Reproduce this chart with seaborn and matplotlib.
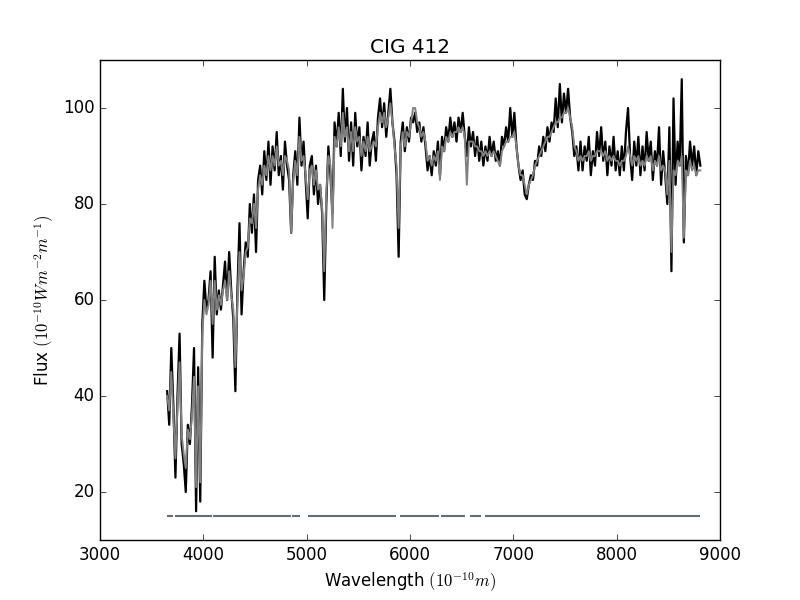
import numpy as np
import pandas as pd
import seaborn as sns
import matplotlib
matplotlib.use("Agg")
import matplotlib.pyplot as plt

# wavelength grid (Angstrom), 20 A steps
wave = [3650, 3670, 3690, 3710, 3730, 3750, 3770, 3790, 3810, 3830,
        3850, 3870, 3890, 3910, 3930, 3950, 3970, 3990, 4010, 4030,
        4050, 4070, 4090, 4110, 4130, 4150, 4170, 4190, 4210, 4230,
        4250, 4270, 4290, 4310, 4330, 4350, 4370, 4390, 4410, 4430,
        4450, 4470, 4490, 4510, 4530, 4550, 4570, 4590, 4610, 4630,
        4650, 4670, 4690, 4710, 4730, 4750, 4770, 4790, 4810, 4830,
        4850, 4870, 4890, 4910, 4930, 4950, 4970, 4990, 5010, 5030,
        5050, 5070, 5090, 5110, 5130, 5150, 5170, 5190, 5210, 5230,
        5250, 5270, 5290, 5310, 5330, 5350, 5370, 5390, 5410, 5430,
        5450, 5470, 5490, 5510, 5530, 5550, 5570, 5590, 5610, 5630,
        5650, 5670, 5690, 5710, 5730, 5750, 5770, 5790, 5810, 5830,
        5850, 5870, 5890, 5910, 5930, 5950, 5970, 5990, 6010, 6030,
        6050, 6070, 6090, 6110, 6130, 6150, 6170, 6190, 6210, 6230,
        6250, 6270, 6290, 6310, 6330, 6350, 6370, 6390, 6410, 6430,
        6450, 6470, 6490, 6510, 6530, 6550, 6570, 6590, 6610, 6630,
        6650, 6670, 6690, 6710, 6730, 6750, 6770, 6790, 6810, 6830,
        6850, 6870, 6890, 6910, 6930, 6950, 6970, 6990, 7010, 7030,
        7050, 7070, 7090, 7110, 7130, 7150, 7170, 7190, 7210, 7230,
        7250, 7270, 7290, 7310, 7330, 7350, 7370, 7390, 7410, 7430,
        7450, 7470, 7490, 7510, 7530, 7550, 7570, 7590, 7610, 7630,
        7650, 7670, 7690, 7710, 7730, 7750, 7770, 7790, 7810, 7830,
        7850, 7870, 7890, 7910, 7930, 7950, 7970, 7990, 8010, 8030,
        8050, 8070, 8090, 8110, 8130, 8150, 8170, 8190, 8210, 8230,
        8250, 8270, 8290, 8310, 8330, 8350, 8370, 8390, 8410, 8430,
        8450, 8470, 8490, 8510, 8530, 8550, 8570, 8590, 8610, 8630,
        8650, 8670, 8690, 8710, 8730, 8750, 8770, 8790, 8810]

# observed flux (black)
flux_obs = [41, 34, 50, 38, 23, 40, 53, 30, 26, 20,
            34, 30, 38, 50, 16, 46, 18, 55, 64, 58,
            60, 66, 48, 69, 57, 62, 58, 63, 68, 60,
            70, 62, 56, 41, 62, 76, 57, 66, 72, 69,
            80, 74, 82, 70, 85, 88, 82, 91, 85, 93,
            84, 92, 87, 95, 86, 90, 83, 93, 88, 85,
            74, 86, 91, 84, 98, 88, 93, 85, 77, 88,
            90, 82, 88, 80, 84, 78, 60, 80, 92, 86,
            78, 97, 92, 99, 90, 104, 93, 100, 89, 97,
            88, 99, 92, 96, 87, 94, 90, 97, 88, 93,
            95, 89, 98, 102, 96, 101, 94, 99, 104, 97,
            93, 86, 69, 93, 97, 91, 96, 93, 98, 97,
            99, 95, 97, 93, 96, 92, 87, 90, 86, 91,
            88, 93, 86, 94, 91, 96, 93, 98, 94, 97,
            93, 98, 95, 99, 94, 90, 96, 92, 95, 90,
            94, 89, 93, 88, 92, 89, 94, 90, 93, 89,
            91, 88, 94, 92, 96, 93, 100, 94, 99, 92,
            88, 85, 87, 82, 81, 84, 86, 85, 89, 88,
            92, 90, 94, 91, 96, 93, 97, 95, 102, 96,
            105, 97, 103, 99, 104, 98, 95, 90, 92, 87,
            93, 87, 92, 89, 94, 86, 91, 88, 95, 90,
            96, 89, 93, 86, 92, 88, 94, 87, 91, 86,
            92, 87, 95, 100, 90, 85, 93, 88, 94, 86,
            92, 87, 95, 89, 93, 85, 91, 88, 96, 84,
            91, 86, 80, 96, 66, 102, 84, 93, 88, 106,
            72, 90, 86, 93, 88, 92, 86, 91, 88]

# model fit (grey)
flux_model = [40, 37, 45, 36, 27, 38, 47, 32, 28, 25,
              33, 31, 36, 44, 21, 42, 22, 53, 60, 57,
              59, 64, 55, 64, 58, 61, 59, 62, 64, 60,
              66, 61, 58, 46, 60, 70, 62, 65, 70, 71,
              77, 76, 80, 75, 83, 86, 84, 88, 86, 90,
              87, 90, 88, 92, 88, 89, 86, 90, 89, 87,
              74, 85, 89, 86, 94, 89, 90, 86, 81, 87,
              88, 84, 87, 83, 84, 79, 66, 82, 90, 88,
              75, 94, 92, 96, 92, 99, 94, 96, 91, 95,
              91, 96, 93, 94, 90, 93, 91, 94, 91, 92,
              93, 92, 96, 99, 97, 99, 96, 98, 101, 97,
              92, 88, 75, 92, 95, 92, 95, 94, 97, 100,
              100, 97, 96, 94, 95, 93, 89, 90, 88, 90,
              89, 91, 85, 92, 91, 94, 93, 95, 94, 95,
              95, 96, 95, 96, 94, 84, 93, 93, 93, 92,
              92, 91, 91, 90, 91, 90, 91, 90, 91, 90,
              89, 88, 91, 92, 93, 93, 94, 94, 95, 92,
              88, 86, 86, 84, 82, 84, 85, 86, 88, 89,
              90, 91, 92, 93, 94, 94, 95, 96, 97, 97,
              98, 98, 99, 99, 100, 98, 96, 92, 91, 89,
              90, 89, 90, 90, 91, 89, 90, 90, 91, 91,
              91, 90, 91, 89, 90, 89, 90, 89, 89, 88,
              89, 89, 90, 92, 90, 88, 90, 89, 90, 88,
              89, 88, 90, 89, 90, 87, 89, 88, 90, 87,
              88, 87, 82, 89, 70, 87, 86, 89, 88, 90,
              73, 87, 86, 89, 87, 88, 86, 87, 87]

# good-pixel mask segments drawn at flux = 15
mask_start = [3645, 3726, 3866, 4095, 4858, 5013, 5900, 6304, 6585, 6729]
mask_end = [3708, 3860, 4084, 4844, 4935, 5864, 6276, 6529, 6690, 8811]
mask_level = [15] * len(mask_start)

df = pd.DataFrame({"wave": wave, "obs": flux_obs, "model": flux_model})

plt.style.use("classic")
fig, ax = plt.subplots(figsize=(8, 6), dpi=100)
fig.patch.set_facecolor("white")

sns.lineplot(data=df, x="wave", y="obs", color="black", lw=1.6,
             estimator=None, ax=ax)
sns.lineplot(data=df, x="wave", y="model", color="grey", lw=1.4,
             estimator=None, ax=ax)
ax.hlines(mask_level, mask_start, mask_end, color="#5f6e78", lw=1.5)

ax.set_xlim(3000, 9000)
ax.set_ylim(10, 110)
ax.set_xticks([3000, 4000, 5000, 6000, 7000, 8000, 9000])
ax.set_yticks([20, 40, 60, 80, 100])
ax.set_title("CIG 412")
ax.set_xlabel(r"Wavelength $(10^{-10}m)$")
ax.set_ylabel(r"Flux $(10^{-10}Wm^{-2}m^{-1})$")

fig.savefig("out.png", dpi=100, facecolor="white")
